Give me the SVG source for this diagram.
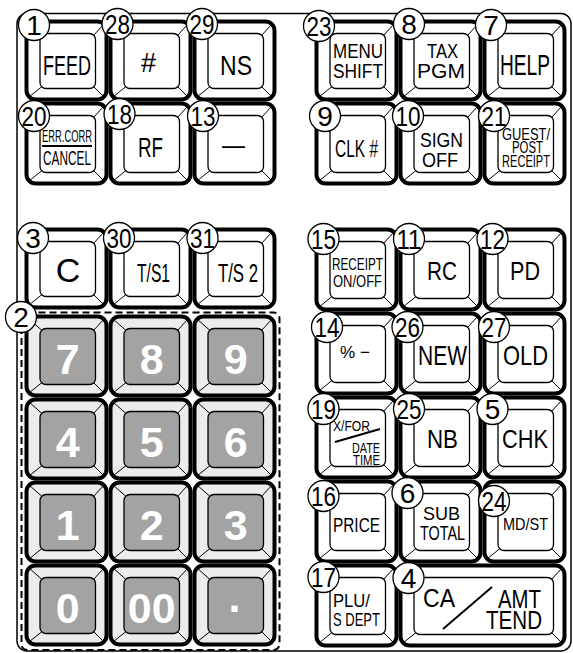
<svg xmlns="http://www.w3.org/2000/svg" xmlns:xlink="http://www.w3.org/1999/xlink" width="573" height="653" viewBox="0 0 573 653">
<style>
.o{fill:#fff;stroke:#000;stroke-width:4}
.on{fill:#ececec;stroke:#000;stroke-width:4}
.i{fill:#fff;stroke:#000;stroke-width:1.3}
.in{fill:#a3a3a3;stroke:#000;stroke-width:1.3}
.b{stroke:#000;stroke-width:1;fill:none}
.c{fill:#fff;stroke:#000;stroke-width:1.3}
.ln{stroke:#000;stroke-width:2;fill:none}
text{font-family:"Liberation Sans",Arial,Helvetica,sans-serif;fill:#000}
.n{font-size:28px;text-anchor:middle}
.m{text-anchor:middle}
.e{text-anchor:end}
.d{font-size:43px;font-weight:bold;fill:#fff;text-anchor:middle}
</style>
<defs>
<g id="f78"><rect class="o" width="80" height="78" rx="9"/><rect class="i" x="13.5" y="12" width="55.5" height="55" rx="6"/><path class="b" d="M2.6 2.6L15.3 13.8M77.4 2.6L67.2 13.8M2.6 75.4L15.3 65.2M77.4 75.4L67.2 65.2"/></g>
<g id="f80"><rect class="o" width="80" height="80" rx="9"/><rect class="i" x="13.5" y="12" width="55.5" height="57" rx="6"/><path class="b" d="M2.6 2.6L15.3 13.8M77.4 2.6L67.2 13.8M2.6 77.4L15.3 67.2M77.4 77.4L67.2 67.2"/></g>
<g id="n79"><rect class="on" width="80" height="79" rx="9"/><rect class="in" x="13.5" y="12" width="55.5" height="56" rx="6"/><path class="b" d="M2.6 2.6L15.3 13.8M77.4 2.6L67.2 13.8M2.6 76.4L15.3 66.2M77.4 76.4L67.2 66.2"/></g>
<g id="w80"><rect class="o" width="164" height="80" rx="9"/><rect class="i" x="13.5" y="12" width="139.5" height="57" rx="6"/><path class="b" d="M2.6 2.6L15.3 13.8M161.4 2.6L151.2 13.8M2.6 77.4L15.3 67.2M161.4 77.4L151.2 67.2"/></g>
</defs>
<rect width="573" height="653" fill="#fff"/>
<g id="connectors">
<rect x="17" y="13.5" width="554" height="637.5" rx="10" fill="none" stroke="#000" stroke-width="1.5"/>
<rect x="21.5" y="312.5" width="258" height="337.5" rx="6" fill="#fff" stroke="#000" stroke-width="2" stroke-dasharray="7 4"/>
</g>
<!-- Left block row 0 -->
<g id="k1"><use xlink:href="#f78" x="26.5" y="21.5"/><text x="67" y="75" font-size="28" class="m" textLength="48" lengthAdjust="spacingAndGlyphs">FEED</text><circle class="c" cx="34" cy="25" r="15.5"/><text class="n" x="34" y="35">1</text></g>
<g id="k28"><use xlink:href="#f78" x="110.5" y="21.5"/><text x="148.5" y="72" font-size="27" class="m">#</text><circle class="c" cx="117.5" cy="24" r="15.5"/><text class="n" x="117.5" y="34" textLength="25" lengthAdjust="spacingAndGlyphs">28</text></g>
<g id="k29"><use xlink:href="#f78" x="194.5" y="21.5"/><text x="236" y="75" font-size="28" class="m" textLength="32" lengthAdjust="spacingAndGlyphs">NS</text><circle class="c" cx="202" cy="24" r="15.5"/><text class="n" x="202" y="34" textLength="25" lengthAdjust="spacingAndGlyphs">29</text></g>
<!-- Left block row 1 -->
<g id="k20"><use xlink:href="#f80" x="26.5" y="103.5"/><text x="67" y="142" font-size="16.5" class="m" textLength="50" lengthAdjust="spacingAndGlyphs">ERR.CORR</text><line class="ln" x1="42" y1="146" x2="92" y2="146"/><text x="67" y="165" font-size="20.5" class="m" textLength="48" lengthAdjust="spacingAndGlyphs">CANCEL</text><circle class="c" cx="34" cy="116" r="15.5"/><text class="n" x="34" y="126" textLength="25" lengthAdjust="spacingAndGlyphs">20</text></g>
<g id="k18"><use xlink:href="#f80" x="110.5" y="103.5"/><text x="150.5" y="157" font-size="28" class="m" textLength="25" lengthAdjust="spacingAndGlyphs">RF</text><circle class="c" cx="119.5" cy="114" r="15.5"/><text class="n" x="119.5" y="124" textLength="25" lengthAdjust="spacingAndGlyphs">18</text></g>
<g id="k13"><use xlink:href="#f80" x="194.5" y="103.5"/><text x="233.5" y="154" font-size="28" class="m" textLength="23" lengthAdjust="spacingAndGlyphs">—</text><circle class="c" cx="203" cy="116" r="15.5"/><text class="n" x="203" y="126" textLength="25" lengthAdjust="spacingAndGlyphs">13</text></g>
<!-- Left block row 2 -->
<g id="k3"><use xlink:href="#f78" x="26.5" y="229.5"/><text x="68" y="282" font-size="34" class="m">C</text><circle class="c" cx="33" cy="238" r="15.5"/><text class="n" x="33" y="248">3</text></g>
<g id="k30"><use xlink:href="#f78" x="110.5" y="229.5"/><text x="153.5" y="282" font-size="25" class="m" textLength="33" lengthAdjust="spacingAndGlyphs">T/S1</text><circle class="c" cx="119" cy="238" r="15.5"/><text class="n" x="119" y="248" textLength="25" lengthAdjust="spacingAndGlyphs">30</text></g>
<g id="k31"><use xlink:href="#f78" x="194.5" y="229.5"/><text x="238" y="282" font-size="25" class="m" textLength="40" lengthAdjust="spacingAndGlyphs">T/S 2</text><circle class="c" cx="202.5" cy="238" r="15.5"/><text class="n" x="202.5" y="248" textLength="25" lengthAdjust="spacingAndGlyphs">31</text></g>
<!-- Numeric keypad -->
<g id="n7"><use xlink:href="#n79" x="26.5" y="316.5"/><text class="d" x="67.75" y="373.5">7</text></g>
<g id="n8"><use xlink:href="#n79" x="110.5" y="316.5"/><text class="d" x="151.75" y="373.5">8</text></g>
<g id="n9"><use xlink:href="#n79" x="194.5" y="316.5"/><text class="d" x="235.75" y="373.5">9</text></g>
<g id="n4"><use xlink:href="#n79" x="26.5" y="399.5"/><text class="d" x="67.75" y="456.5">4</text></g>
<g id="n5"><use xlink:href="#n79" x="110.5" y="399.5"/><text class="d" x="151.75" y="456.5">5</text></g>
<g id="n6"><use xlink:href="#n79" x="194.5" y="399.5"/><text class="d" x="235.75" y="456.5">6</text></g>
<g id="n1"><use xlink:href="#n79" x="26.5" y="482.5"/><text class="d" x="67.75" y="539.5">1</text></g>
<g id="n2"><use xlink:href="#n79" x="110.5" y="482.5"/><text class="d" x="151.75" y="539.5">2</text></g>
<g id="n3"><use xlink:href="#n79" x="194.5" y="482.5"/><text class="d" x="235.75" y="539.5">3</text></g>
<g id="n0"><use xlink:href="#n79" x="26.5" y="565.5"/><text class="d" x="67.75" y="622.5">0</text></g>
<g id="n00"><use xlink:href="#n79" x="110.5" y="565.5"/><text class="d" x="151.75" y="622.5">00</text></g>
<g id="ndot"><use xlink:href="#n79" x="194.5" y="565.5"/><text class="d" x="235.75" y="622.5">·</text></g>
<g id="c2"><circle class="c" cx="21" cy="317" r="15.5"/><text class="n" x="21" y="327">2</text></g>
<!-- Right block row 0 -->
<g id="k23"><use xlink:href="#f78" x="316.5" y="21.5"/><text x="358" y="58" font-size="20.5" class="m" textLength="50" lengthAdjust="spacingAndGlyphs">MENU</text><text x="358" y="78" font-size="20.5" class="m" textLength="50" lengthAdjust="spacingAndGlyphs">SHIFT</text><circle class="c" cx="319" cy="26" r="15.5"/><text class="n" x="319" y="36" textLength="25" lengthAdjust="spacingAndGlyphs">23</text></g>
<g id="k8"><use xlink:href="#f78" x="400.5" y="21.5"/><text x="442.5" y="58" font-size="20.5" class="m" textLength="31" lengthAdjust="spacingAndGlyphs">TAX</text><text x="441" y="78" font-size="20.5" class="m" textLength="48" lengthAdjust="spacingAndGlyphs">PGM</text><circle class="c" cx="409" cy="24" r="15.5"/><text class="n" x="409" y="34">8</text></g>
<g id="k7"><use xlink:href="#f78" x="484.5" y="21.5"/><text x="525" y="75" font-size="29" class="m" textLength="50" lengthAdjust="spacingAndGlyphs">HELP</text><circle class="c" cx="491" cy="25" r="15.5"/><text class="n" x="491" y="35">7</text></g>
<!-- Right block row 1 -->
<g id="k9"><use xlink:href="#f80" x="316.5" y="103.5"/><text x="356.5" y="157" font-size="23.5" class="m" textLength="43" lengthAdjust="spacingAndGlyphs">CLK #</text><circle class="c" cx="325" cy="116" r="15.5"/><text class="n" x="325" y="126">9</text></g>
<g id="k10"><use xlink:href="#f80" x="400.5" y="103.5"/><text x="441.5" y="147" font-size="21" class="m" textLength="43" lengthAdjust="spacingAndGlyphs">SIGN</text><text x="440" y="167" font-size="21" class="m" textLength="36" lengthAdjust="spacingAndGlyphs">OFF</text><circle class="c" cx="408" cy="116" r="15.5"/><text class="n" x="408" y="126" textLength="25" lengthAdjust="spacingAndGlyphs">10</text></g>
<g id="k21"><use xlink:href="#f80" x="484.5" y="103.5"/><text x="526" y="140" font-size="16.5" class="m" textLength="48" lengthAdjust="spacingAndGlyphs">GUEST/</text><text x="527.5" y="153" font-size="16" class="m" textLength="31" lengthAdjust="spacingAndGlyphs">POST</text><text x="526" y="167" font-size="16.5" class="m" textLength="48" lengthAdjust="spacingAndGlyphs">RECEIPT</text><circle class="c" cx="494" cy="116" r="15.5"/><text class="n" x="494" y="126" textLength="25" lengthAdjust="spacingAndGlyphs">21</text></g>
<!-- Right block row 2 -->
<g id="k15"><use xlink:href="#f80" x="316.5" y="229.5"/><text x="357.5" y="270" font-size="17" class="m" textLength="51" lengthAdjust="spacingAndGlyphs">RECEIPT</text><text x="357.5" y="287" font-size="17" class="m" textLength="49" lengthAdjust="spacingAndGlyphs">ON/OFF</text><circle class="c" cx="323.5" cy="239" r="15.5"/><text class="n" x="323.5" y="249" textLength="25" lengthAdjust="spacingAndGlyphs">15</text></g>
<g id="k11"><use xlink:href="#f80" x="400.5" y="229.5"/><text x="442" y="280" font-size="25" class="m" textLength="30" lengthAdjust="spacingAndGlyphs">RC</text><circle class="c" cx="409" cy="239" r="15.5"/><text class="n" x="409" y="249" textLength="25" lengthAdjust="spacingAndGlyphs">11</text></g>
<g id="k12"><use xlink:href="#f80" x="484.5" y="229.5"/><text x="525" y="280" font-size="25" class="m" textLength="30" lengthAdjust="spacingAndGlyphs">PD</text><circle class="c" cx="492.5" cy="239" r="15.5"/><text class="n" x="492.5" y="249" textLength="25" lengthAdjust="spacingAndGlyphs">12</text></g>
<!-- Right block row 3 -->
<g id="k14"><use xlink:href="#f80" x="316.5" y="313.5"/><text x="355" y="358" font-size="17" class="m" textLength="30" lengthAdjust="spacingAndGlyphs">% −</text><circle class="c" cx="327" cy="327" r="15.5"/><text class="n" x="327" y="337" textLength="25" lengthAdjust="spacingAndGlyphs">14</text></g>
<g id="k26"><use xlink:href="#f80" x="400.5" y="313.5"/><text x="442.5" y="365" font-size="28" class="m" textLength="49" lengthAdjust="spacingAndGlyphs">NEW</text><circle class="c" cx="407.5" cy="327" r="15.5"/><text class="n" x="407.5" y="337" textLength="25" lengthAdjust="spacingAndGlyphs">26</text></g>
<g id="k27"><use xlink:href="#f80" x="484.5" y="313.5"/><text x="525.5" y="365" font-size="28" class="m" textLength="45" lengthAdjust="spacingAndGlyphs">OLD</text><circle class="c" cx="494" cy="327" r="15.5"/><text class="n" x="494" y="337" textLength="25" lengthAdjust="spacingAndGlyphs">27</text></g>
<!-- Right block row 4 -->
<g id="k19"><use xlink:href="#f80" x="316.5" y="397.5"/><text x="333" y="431" font-size="15" textLength="37" lengthAdjust="spacingAndGlyphs">X/FOR</text><line class="ln" x1="335" y1="442" x2="380" y2="429"/><text x="380" y="453" font-size="15" class="e" textLength="28" lengthAdjust="spacingAndGlyphs">DATE</text><text x="380" y="465" font-size="15" class="e" textLength="27" lengthAdjust="spacingAndGlyphs">TIME</text><circle class="c" cx="323.5" cy="409" r="15.5"/><text class="n" x="323.5" y="419" textLength="25" lengthAdjust="spacingAndGlyphs">19</text></g>
<g id="k25"><use xlink:href="#f80" x="400.5" y="397.5"/><text x="442.5" y="448" font-size="25" class="m" textLength="31" lengthAdjust="spacingAndGlyphs">NB</text><circle class="c" cx="409" cy="409" r="15.5"/><text class="n" x="409" y="419" textLength="25" lengthAdjust="spacingAndGlyphs">25</text></g>
<g id="k5"><use xlink:href="#f80" x="484.5" y="397.5"/><text x="525" y="448" font-size="25" class="m" textLength="46" lengthAdjust="spacingAndGlyphs">CHK</text><circle class="c" cx="492.5" cy="409" r="15.5"/><text class="n" x="492.5" y="419">5</text></g>
<!-- Right block row 5 -->
<g id="k16"><use xlink:href="#f80" x="316.5" y="481.5"/><text x="356.5" y="532" font-size="21" class="m" textLength="47" lengthAdjust="spacingAndGlyphs">PRICE</text><circle class="c" cx="323.5" cy="496" r="15.5"/><text class="n" x="323.5" y="506" textLength="25" lengthAdjust="spacingAndGlyphs">16</text></g>
<g id="k6"><use xlink:href="#f80" x="400.5" y="481.5"/><text x="441.5" y="520" font-size="17.5" class="m" textLength="37" lengthAdjust="spacingAndGlyphs">SUB</text><text x="442.5" y="540" font-size="21" class="m" textLength="45" lengthAdjust="spacingAndGlyphs">TOTAL</text><circle class="c" cx="407.5" cy="493" r="15.5"/><text class="n" x="407.5" y="503">6</text></g>
<g id="k24"><use xlink:href="#f80" x="484.5" y="481.5"/><text x="525.5" y="530" font-size="17" class="m" textLength="45" lengthAdjust="spacingAndGlyphs">MD/ST</text><circle class="c" cx="494" cy="501" r="15.5"/><text class="n" x="494" y="511" textLength="25" lengthAdjust="spacingAndGlyphs">24</text></g>
<!-- Right block row 6 -->
<g id="k17"><use xlink:href="#f80" x="316.5" y="565.5"/><text x="333" y="607" font-size="19" textLength="37" lengthAdjust="spacingAndGlyphs">PLU/</text><text x="333" y="626" font-size="19" textLength="47" lengthAdjust="spacingAndGlyphs">S DEPT</text><circle class="c" cx="323.5" cy="577" r="15.5"/><text class="n" x="323.5" y="587" textLength="25" lengthAdjust="spacingAndGlyphs">17</text></g>
<g id="k4"><use xlink:href="#w80" x="400.5" y="565.5"/><text x="423" y="607" font-size="26" textLength="32" lengthAdjust="spacingAndGlyphs">CA</text><line class="ln" x1="443" y1="629" x2="492" y2="587"/><text x="541" y="608" font-size="26" class="e" textLength="43" lengthAdjust="spacingAndGlyphs">AMT</text><text x="542" y="629" font-size="26" class="e" textLength="56" lengthAdjust="spacingAndGlyphs">TEND</text><circle class="c" cx="408.5" cy="578" r="15.5"/><text class="n" x="408.5" y="588">4</text></g>
</svg>
